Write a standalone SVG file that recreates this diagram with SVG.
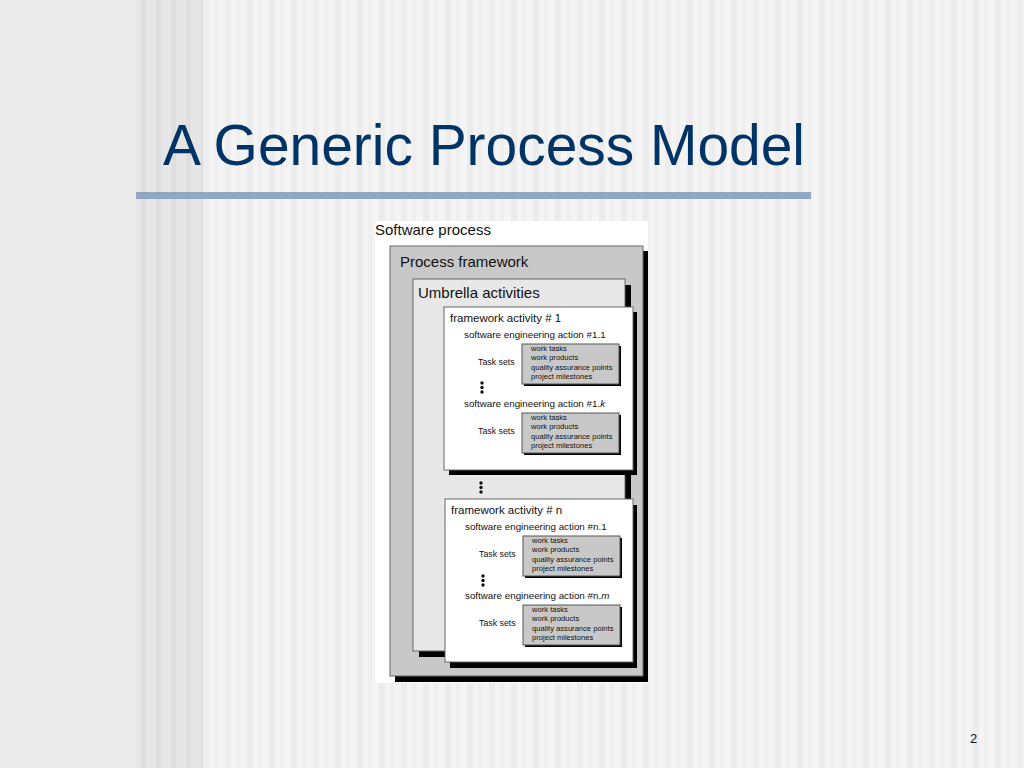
<svg xmlns="http://www.w3.org/2000/svg" width="1024" height="768" viewBox="0 0 1024 768">
<defs>
<pattern id="st" x="203" y="0" width="22" height="768" patternUnits="userSpaceOnUse">
<rect width="22" height="768" fill="#f4f4f4"/>
<rect x="0" width="6" height="768" fill="#ececec"/>
<rect x="11" width="4" height="768" fill="#efefef"/>
</pattern>
<pattern id="st2" x="136" y="0" width="15" height="768" patternUnits="userSpaceOnUse">
<rect width="15" height="768" fill="#e6e6e6"/>
<rect x="5" width="5" height="768" fill="#dedede"/>
</pattern>
</defs>
<style>
.sh{fill:#000}
.t{font-family:"Liberation Sans",Arial,sans-serif;fill:#111}
.big{font-size:15px}
.fa{font-size:11.5px}
.sea{font-size:9.8px}
.ts{font-size:8.8px}
.it{font-size:7.6px}
.tb{fill:#c8c8c8;stroke:#555;stroke-width:1}
.dot{fill:#111}
</style>
<rect width="1024" height="768" fill="#ebebeb"/>
<rect x="136" width="67" height="768" fill="url(#st2)"/>
<rect x="203" width="821" height="768" fill="url(#st)"/>
<text x="163" y="165" font-family="Liberation Sans,Arial,sans-serif" font-size="58" fill="#003366" textLength="642" lengthAdjust="spacingAndGlyphs">A Generic Process Model</text>
<rect x="136" y="192" width="675" height="7" fill="#8fa8c4"/>
<text x="970" y="743" font-family="Liberation Sans,Arial,sans-serif" font-size="13" fill="#111">2</text>

<g id="software-process">
<rect x="375" y="221" width="273" height="462" fill="#fff"/>
<text class="t big" x="375" y="235">Software process</text>
</g>
<g id="process-framework">
<rect class="sh" x="395" y="251" width="253" height="431"/>
<rect x="390" y="246" width="253" height="430" fill="#c8c8c8" stroke="#666"/>
<text class="t big" x="400" y="267">Process framework</text>
</g>
<g id="umbrella">
<rect class="sh" x="419" y="285" width="212" height="372"/>
<rect x="413" y="279" width="212" height="372" fill="#e8e8e8" stroke="#666"/>
<text class="t big" x="418" y="298">Umbrella activities</text>
</g>
<g id="dots-mid"><circle class="dot" cx="481" cy="483" r="1.7"/><circle class="dot" cx="481" cy="487.5" r="1.7"/><circle class="dot" cx="481" cy="492" r="1.7"/></g>

<g id="fa1">
<rect class="sh" x="449" y="312" width="188" height="163"/>
<rect x="444" y="307" width="189" height="163" fill="#fff" stroke="#666"/>
<text class="t fa" x="450" y="322">framework activity # 1</text>
<text class="t sea" x="464" y="338">software engineering action #1.1</text>
<text class="t ts" x="478" y="365">Task sets</text>
<rect class="sh" x="524" y="346" width="97" height="40"/>
<rect class="tb" x="522" y="344" width="97" height="40"/>
<text class="t it" x="531" y="351">work tasks</text><text class="t it" x="531" y="360">work products</text><text class="t it" x="531" y="370">quality assurance points</text><text class="t it" x="531" y="379">project milestones</text>
<circle class="dot" cx="482" cy="383" r="1.7"/><circle class="dot" cx="482" cy="387.5" r="1.7"/><circle class="dot" cx="482" cy="392" r="1.7"/>
<text class="t sea" x="464" y="407">software engineering action #1.<tspan font-style="italic">k</tspan></text>
<text class="t ts" x="478" y="434">Task sets</text>
<rect class="sh" x="524" y="415" width="97" height="40"/>
<rect class="tb" x="522" y="413" width="97" height="40"/>
<text class="t it" x="531" y="420">work tasks</text><text class="t it" x="531" y="429">work products</text><text class="t it" x="531" y="439">quality assurance points</text><text class="t it" x="531" y="448">project milestones</text>
</g>

<g id="fan">
<rect class="sh" x="450" y="505" width="187" height="163"/>
<rect x="445" y="499" width="188" height="163" fill="#fff" stroke="#666"/>
<text class="t fa" x="451" y="514">framework activity # n</text>
<text class="t sea" x="465" y="530">software engineering action #n.1</text>
<text class="t ts" x="479" y="557">Task sets</text>
<rect class="sh" x="525" y="538" width="97" height="40"/>
<rect class="tb" x="523" y="536" width="97" height="40"/>
<text class="t it" x="532" y="543">work tasks</text><text class="t it" x="532" y="552">work products</text><text class="t it" x="532" y="562">quality assurance points</text><text class="t it" x="532" y="571">project milestones</text>
<circle class="dot" cx="483" cy="576" r="1.7"/><circle class="dot" cx="483" cy="580.5" r="1.7"/><circle class="dot" cx="483" cy="585" r="1.7"/>
<text class="t sea" x="465" y="599">software engineering action #n.<tspan font-style="italic">m</tspan></text>
<text class="t ts" x="479" y="626">Task sets</text>
<rect class="sh" x="525" y="607" width="97" height="40"/>
<rect class="tb" x="523" y="605" width="97" height="40"/>
<text class="t it" x="532" y="612">work tasks</text><text class="t it" x="532" y="621">work products</text><text class="t it" x="532" y="631">quality assurance points</text><text class="t it" x="532" y="640">project milestones</text>
</g>
<g id="connectors"/>
</svg>
